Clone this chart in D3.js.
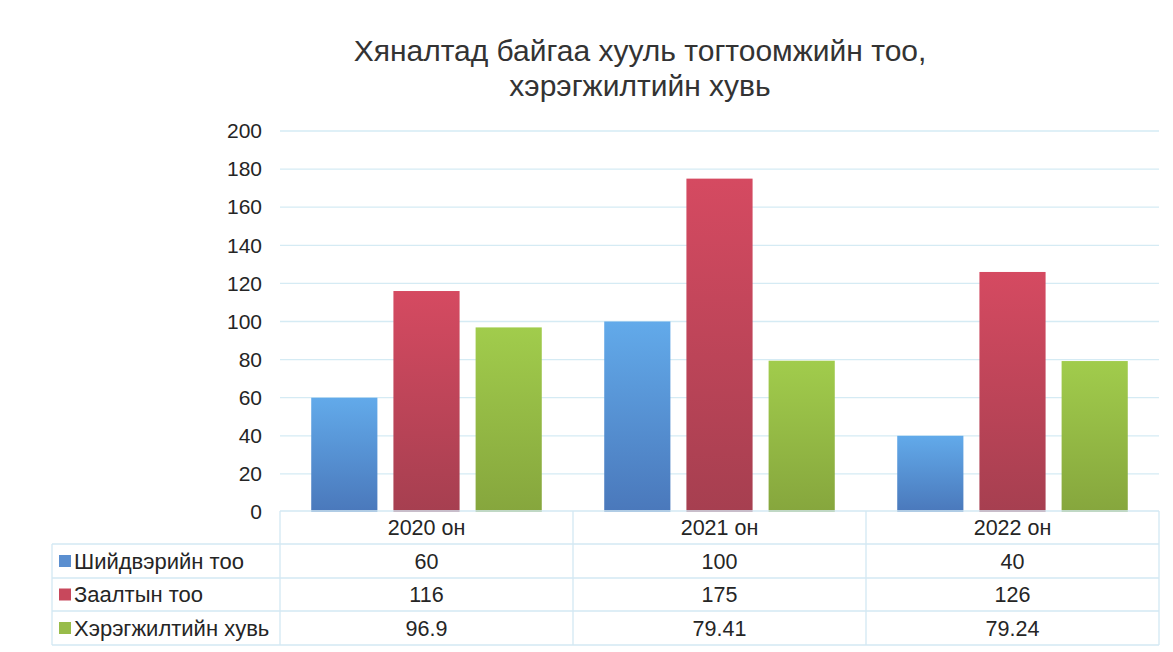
<!DOCTYPE html>
<html><head><meta charset="utf-8">
<script src="https://cdn.jsdelivr.net/npm/d3@7"></script>
<style>body{margin:0;background:#fff;}svg{display:block;font-family:"Liberation Sans",Arial,sans-serif;}</style>
</head><body><svg id="c" width="1173" height="652"></svg>
<script>
const titleLines = ["Хяналтад байгаа хууль тогтоомжийн тоо,", "хэрэгжилтийн хувь"];
const categories = ["2020 он", "2021 он", "2022 он"];
const seriesNames = ["Шийдвэрийн тоо", "Заалтын тоо", "Хэрэгжилтийн хувь"];
const decisions = [60, 100, 40];
const provisions = [116, 175, 126];
const implementation = [96.9, 79.41, 79.24];
const implementationLabels = ["96.9", "79.41", "79.24"];
const yTicks = [0, 20, 40, 60, 80, 100, 120, 140, 160, 180, 200];

(function () {
const series = [
  {name: seriesNames[0], values: decisions, labels: decisions.map(String), c1: "#62aaea", c2: "#4a78bb", key: "#5b8fd0"},
  {name: seriesNames[1], values: provisions, labels: provisions.map(String), c1: "#d54a61", c2: "#a63f50", key: "#c8485c"},
  {name: seriesNames[2], values: implementation, labels: implementationLabels, c1: "#a1cc4c", c2: "#86a63d", key: "#98bc4a"}
];

const svg = d3.select("#c");
const pL = 280, pR = 1159, pT = 131, pB = 512;
const x = d3.scaleBand().domain(categories).range([pL, pR]);
const xi = d3.scaleBand().domain(seriesNames).range([0, x.bandwidth()]).paddingInner(0.195).paddingOuter(0.38);
const y = d3.scaleLinear().domain([0, 200]).range([pB, pT]);
const txt = "#252525";

const defs = svg.append("defs");
series.forEach((s, i) => {
  const g = defs.append("linearGradient").attr("id", "g" + i).attr("x1", 0).attr("y1", 0).attr("x2", 0).attr("y2", 1);
  g.append("stop").attr("offset", "0%").attr("stop-color", s.c1);
  g.append("stop").attr("offset", "100%").attr("stop-color", s.c2);
});

// title
svg.append("text").attr("text-anchor", "middle").attr("font-size", 30).attr("fill", "#333")
  .selectAll("tspan").data(titleLines).join("tspan")
  .attr("x", 640).attr("y", (d, i) => 61 + i * 35).text(d => d);

// gridlines
svg.append("g").selectAll("line").data(yTicks.filter(d => d > 0)).join("line")
  .attr("x1", pL).attr("x2", pR).attr("y1", d => y(d)).attr("y2", d => y(d))
  .attr("stroke", "#d5ebf4").attr("stroke-width", 1.3);

// y axis labels
const yAxis = svg.append("g").attr("transform", `translate(${pL},0)`)
  .call(d3.axisLeft(y).tickValues(yTicks).tickSize(0).tickPadding(18));
yAxis.select(".domain").remove();
yAxis.selectAll("text").attr("font-size", 21).attr("fill", txt).attr("font-family", "Liberation Sans, Arial, sans-serif");

// bars
series.forEach((s, i) => {
  svg.append("g").selectAll("rect").data(categories).join("rect")
    .attr("x", (c) => x(c) + xi(s.name))
    .attr("width", xi.bandwidth())
    .attr("y", (c, j) => y(s.values[j]))
    .attr("height", (c, j) => y(0) - y(s.values[j]))
    .attr("fill", `url(#g${i})`);
});

// data table
const tableLeft = 52;
const rowH = [511, 544, 578, 611, 645];
const tcol = "#d3e8f3";
const tg = svg.append("g").attr("stroke", tcol).attr("stroke-width", 1.3).attr("fill", "none");
categories.forEach(c => tg.append("line").attr("x1", x(c)).attr("x2", x(c)).attr("y1", rowH[0]).attr("y2", rowH[4]));
tg.append("line").attr("x1", pR).attr("x2", pR).attr("y1", rowH[0]).attr("y2", rowH[4]);
tg.append("line").attr("x1", tableLeft).attr("x2", tableLeft).attr("y1", rowH[1]).attr("y2", rowH[4]);
tg.append("line").attr("x1", pL).attr("x2", pR).attr("y1", rowH[0]).attr("y2", rowH[0]);
[1, 2, 3, 4].forEach(k => tg.append("line").attr("x1", tableLeft).attr("x2", pR).attr("y1", rowH[k]).attr("y2", rowH[k]));

svg.append("g").selectAll("text").data(categories).join("text")
  .attr("x", c => x(c) + x.bandwidth() / 2).attr("y", (rowH[0] + rowH[1]) / 2).attr("dy", "0.36em")
  .attr("text-anchor", "middle").attr("font-size", 21.5).attr("fill", txt).text(c => c);

series.forEach((s, i) => {
  const cy = (rowH[i + 1] + rowH[i + 2]) / 2;
  svg.append("rect").attr("x", 59).attr("y", cy - 6).attr("width", 12).attr("height", 12).attr("fill", s.key);
  svg.append("text").attr("x", 74).attr("y", cy).attr("dy", "0.36em").attr("font-size", 22).attr("fill", txt).text(s.name);
  svg.append("g").selectAll("text").data(categories).join("text")
    .attr("x", c => x(c) + x.bandwidth() / 2).attr("y", cy).attr("dy", "0.36em")
    .attr("text-anchor", "middle").attr("font-size", 21.5).attr("fill", txt)
    .text((c, j) => s.labels[j]);
});
})();
</script></body></html>
